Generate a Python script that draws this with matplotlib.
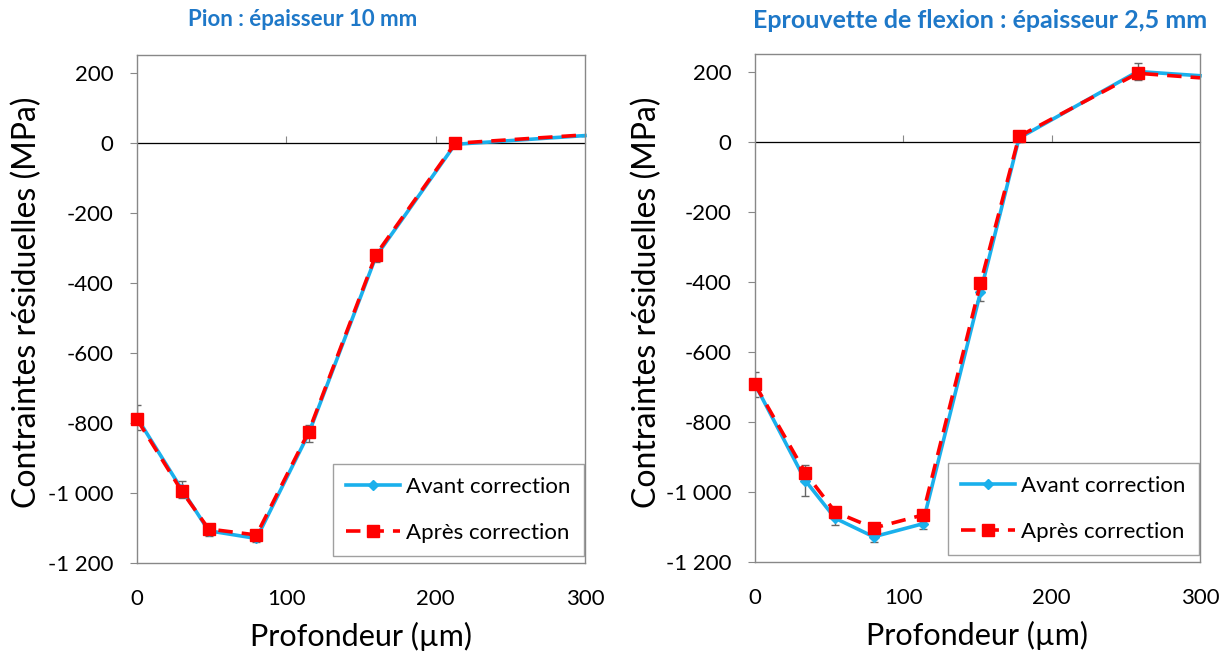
import matplotlib
matplotlib.use("Agg")
import matplotlib.pyplot as plt

plt.rcParams['font.family'] = ['Lato', 'DejaVu Sans']

# Left: Pion
x_left = [0, 30, 48, 80, 115, 160, 213, 300]
avant_left = [-785, -990, -1108, -1130, -830, -325, -5, 20]
apres_left = [-790, -995, -1103, -1120, -825, -320, -2, 22]
err_left = [35, 25, 15, 10, 25, 15, 8, 0]

# Right: Eprouvette
x_right = [0, 34, 54, 80, 113, 152, 178, 258, 300]
avant_right = [-693, -968, -1075, -1128, -1091, -430, 10, 200, 188]
apres_right = [-693, -946, -1057, -1103, -1066, -405, 15, 195, 182]
err_right = [35, 45, 20, 15, 15, 25, 10, 25, 0]

titles = ["Pion : épaisseur 10 mm", "Eprouvette de flexion : épaisseur 2,5 mm"]
yticks = [200, 0, -200, -400, -600, -800, -1000, -1200]
ytick_labels = ["200", "0", "-200", "-400", "-600", "-800", "-1 000", "-1 200"]
xticks = [0, 100, 200, 300]
series_labels = ["Avant correction", "Après correction"]

fig = plt.figure(figsize=(12.31, 6.55), dpi=100)
axes_pos = [[137/1231, 1-563/655, 448/1231, 508/655],
            [755/1231, 1-562/655, 445/1231, 508/655]]
title_x = [303/1231, 980/1231]
title_size = [16, 18]
ylabel_x = [42/1231, 662/1231]
datasets = [(x_left, avant_left, apres_left, err_left),
            (x_right, avant_right, apres_right, err_right)]

blue = "#1AB0EC"
red = "#FF0000"
gray = "#888888"

for i, (pos, (xs, av, ap, er)) in enumerate(zip(axes_pos, datasets)):
    ax = fig.add_axes(pos)
    n = len(xs)
    ax.errorbar(xs, av, yerr=er, fmt='none', ecolor="#666666", elinewidth=1, capsize=3, zorder=1)
    ax.plot(xs, av, color=blue, lw=2.6, marker='D', ms=5, mfc=blue, mec=blue,
            markevery=list(range(n - 1)), label=series_labels[0], zorder=2, clip_on=False)
    ax.plot(xs, ap, color=red, lw=2.6, ls=(0, (4, 2.5)), marker='s', ms=9, mfc=red, mec=red,
            markevery=list(range(n - 1)), label=series_labels[1], zorder=3, clip_on=False)
    ax.set_xlim(0, 300)
    ax.set_ylim(-1200, 250)
    ax.set_yticks(yticks)
    ax.set_yticklabels(ytick_labels, fontsize=16)
    ax.set_xticks(xticks)
    ax.set_xticklabels([str(t) for t in xticks], fontsize=16)
    ax.tick_params(axis='x', length=0, pad=19)
    ax.tick_params(axis='y', length=5, color=gray, direction='out', pad=12)
    for s in ax.spines.values():
        s.set_color(gray)
        s.set_linewidth(1.0)
    ax.axhline(0, color=gray, lw=1.0, zorder=0)
    sec = ax.secondary_xaxis(location=1200/1450)
    sec.set_xticks([100, 200])
    sec.set_xticklabels([])
    sec.tick_params(length=5, color=gray, direction='out')
    sec.spines['bottom'].set_visible(False)
    ax.set_xlabel("Profondeur (µm)", fontsize=22, labelpad=9)
    ax.set_ylabel("Contraintes résiduelles (MPa)", fontsize=23)
    ax.yaxis.set_label_coords(ylabel_x[i], 1 - 302/655, transform=fig.transFigure)
    fig.text(title_x[i], 1 - 20/655, titles[i], fontsize=title_size[i], fontweight='bold',
             color="#1E78C8", ha='center', va='center')
    leg = ax.legend(loc='lower right', bbox_to_anchor=(1 - 1/448, 7/508), fontsize=16, frameon=True,
                    fancybox=False, edgecolor=gray, handlelength=2.4, labelspacing=1.15,
                    borderaxespad=0, handletextpad=0.3, borderpad=0.6)
    leg.get_frame().set_linewidth(1.0)

fig.savefig("out.png", dpi=100)
